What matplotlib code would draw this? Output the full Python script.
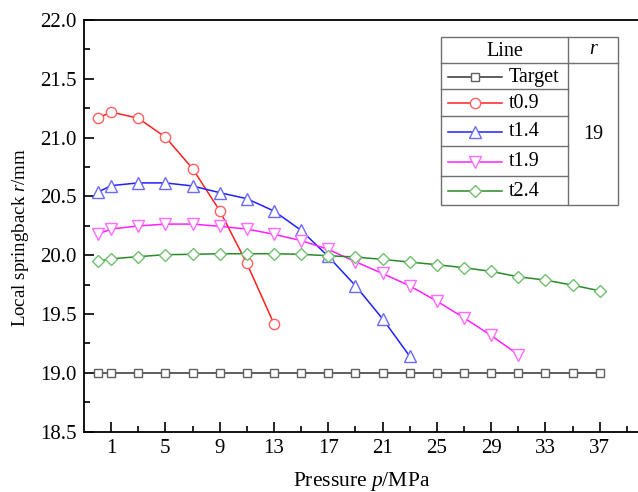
import matplotlib
matplotlib.use("Agg")
import matplotlib.pyplot as plt
from matplotlib.ticker import MultipleLocator, FixedLocator, FormatStrFormatter

plt.rcParams['font.family'] = ['Liberation Serif', 'DejaVu Serif']
plt.rcParams['mathtext.fontset'] = 'custom'
plt.rcParams['mathtext.it'] = 'Liberation Serif:italic'
plt.rcParams['mathtext.rm'] = 'Liberation Serif'

# ---------------- data ----------------
x_target = [0, 1, 3, 5, 7, 9, 11, 13, 15, 17, 19, 21, 23, 25, 27, 29, 31, 33, 35, 37]
y_target = [19.0] * 20

x_t09 = [0, 1, 3, 5, 7, 9, 11, 13]
y_t09 = [21.165, 21.217, 21.165, 21.004, 20.737, 20.379, 19.931, 19.417]

x_t14 = [0, 1, 3, 5, 7, 9, 11, 13, 15, 17, 19, 21, 23]
y_t14 = [20.535, 20.592, 20.615, 20.615, 20.589, 20.532, 20.481, 20.376,
         20.212, 19.990, 19.742, 19.460, 19.142]

x_t19 = [0, 1, 3, 5, 7, 9, 11, 13, 15, 17, 19, 21, 23, 25, 27, 29, 31]
y_t19 = [20.178, 20.223, 20.249, 20.265, 20.265, 20.246, 20.223, 20.178,
         20.125, 20.050, 19.945, 19.845, 19.740, 19.610, 19.468, 19.318, 19.155]

x_t24 = [0, 1, 3, 5, 7, 9, 11, 13, 15, 17, 19, 21, 23, 25, 27, 29, 31, 33, 35, 37]
y_t24 = [19.950, 19.970, 19.988, 20.005, 20.008, 20.013, 20.013, 20.013, 20.008,
         19.996, 19.985, 19.965, 19.942, 19.920, 19.894, 19.863, 19.817, 19.789,
         19.746, 19.698]

x_ticks = [1, 5, 9, 13, 17, 21, 25, 29, 33, 37]
x_minor = [3, 7, 11, 15, 19, 23, 27, 31, 35, 39]
series_labels = ['Target', 't0.9', 't1.4', 't1.9', 't2.4']
r_value = '19'
x_label = 'Pressure $\\it{p}$/MPa'
y_label = 'Local springback $\\it{r}$/mm'

# ---------------- styles ----------------
styles = [
    dict(color='#333333', marker='s', mec='#606060', ms=6.0),
    dict(color='#ff2020', marker='o', mec='#ff6060', ms=7.4),
    dict(color='#2020ff', marker='^', mec='#6a6aff', ms=8.0),
    dict(color='#ff20ff', marker='v', mec='#ff6aff', ms=8.0),
    dict(color='#2a8a2a', marker='D', mec='#70c070', ms=6.4),
]
series = [(x_target, y_target), (x_t09, y_t09), (x_t14, y_t14),
          (x_t19, y_t19), (x_t24, y_t24)]

W, H = 638, 492
fig = plt.figure(figsize=(W / 100, H / 100), dpi=100)

x0, x1 = -1.0, 40.0
left_px, top_px, bot_px = 84.0, 20.0, 431.7
px_per_unit = 13.57
right_px = left_px + (x1 - x0) * px_per_unit
ax = fig.add_axes([left_px / W, 1 - bot_px / H, (right_px - left_px) / W,
                   (bot_px - top_px) / H])

for (xs, ys), st in zip(series, styles):
    ax.plot(xs, ys, color=st['color'], lw=1.1, marker=st['marker'],
            ms=st['ms'], mfc='white', mec=st['mec'], mew=1.0, clip_on=False)

ax.set_xlim(x0, x1)
ax.set_ylim(18.5, 22.0)
ax.xaxis.set_major_locator(FixedLocator(x_ticks))
ax.xaxis.set_minor_locator(FixedLocator(x_minor))
ax.yaxis.set_major_locator(MultipleLocator(0.5))
ax.yaxis.set_minor_locator(MultipleLocator(0.25))
ax.yaxis.set_major_formatter(FormatStrFormatter('%.1f'))
ax.tick_params(which='both', direction='in', top=False, right=False, width=1.2,
               labelsize=15)
ax.tick_params(axis='x', which='major', pad=5)
ax.tick_params(axis='y', which='major', pad=5.5)
ax.tick_params(which='major', length=7.5)
ax.tick_params(which='minor', length=4.5)
for s in ['left', 'bottom', 'top']:
    ax.spines[s].set_linewidth(1.3)
ax.spines['right'].set_visible(False)

# ---------------- overlay in figure pixels ----------------
ov = fig.add_axes([0, 0, 1, 1], facecolor='none')
ov.set_xlim(0, W)
ov.set_ylim(H, 0)
ov.axis('off')

ov.text(362, 486, x_label, ha='center', va='baseline', fontsize=15.5)
ov.text(25, 237.5, y_label, ha='center', va='baseline', fontsize=13.6,
        rotation=90, rotation_mode='anchor')

# legend table
tl, tr, tdiv = 441, 618, 568
rows = [36.7, 63.3, 89.3, 115.5, 145.7, 175.7, 205]
gc = '#707070'
ov.add_patch(plt.Rectangle((tl, rows[0]), tr - tl, rows[-1] - rows[0],
                           facecolor='white', edgecolor=gc, lw=1.0, zorder=5))
ov.plot([tdiv, tdiv], [rows[0], rows[-1]], color=gc, lw=1.0, zorder=6)
ov.plot([tl, tr], [rows[1], rows[1]], color=gc, lw=1.0, zorder=6)
for yy in rows[2:-1]:
    ov.plot([tl, tdiv], [yy, yy], color=gc, lw=1.0, zorder=6)

ov.text((tl + tdiv) / 2, (rows[0] + rows[1]) / 2 + 1, 'Line', ha='center',
        va='center', fontsize=14.5, zorder=7)
ov.text((tdiv + tr) / 2, (rows[0] + rows[1]) / 2, 'r', ha='center', va='center',
        fontsize=14.5, style='italic', zorder=7)
ov.text((tdiv + tr) / 2, (rows[1] + rows[-1]) / 2, r_value, ha='center',
        va='center', fontsize=14.5, zorder=7)

for i, (lab, st) in enumerate(zip(series_labels, styles)):
    yc = (rows[i + 1] + rows[i + 2]) / 2 + 1
    ov.plot([448, 502], [yc, yc], color=st['color'], lw=1.1, zorder=7)
    ov.plot([475], [yc], marker=st['marker'], ms=st['ms'], mfc='white',
            mec=st['mec'], mew=1.0, zorder=8)
    ov.text(509, yc, lab, ha='left', va='center', fontsize=14.5, zorder=8)

fig.savefig('out.png', dpi=100)
